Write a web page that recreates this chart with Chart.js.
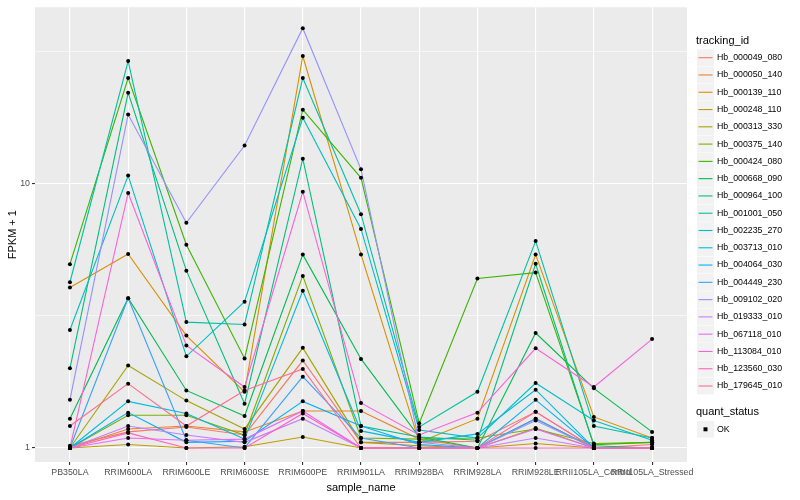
<!DOCTYPE html>
<html>
<head>
<meta charset="utf-8">
<script src="https://cdn.jsdelivr.net/npm/chart.js@4.4.0/dist/chart.umd.min.js"></script>
<style>
  html, body { margin: 0; padding: 0; background: #fff; }
</style>
</head>
<body>
<canvas id="myChart" width="800" height="500"></canvas>
<script>
// sample names along x
const samples = ['PB350LA', 'RRIM600LA', 'RRIM600LE', 'RRIM600SE', 'RRIM600PE', 'RRIM901LA',
  'RRIM928BA', 'RRIM928LA', 'RRIM928LE', 'RRII105LA_Control', 'RRII105LA_Stressed'];

const trackingIds = ['Hb_000049_080', 'Hb_000050_140', 'Hb_000139_110', 'Hb_000248_110', 'Hb_000313_330',
  'Hb_000375_140', 'Hb_000424_080', 'Hb_000668_090', 'Hb_000964_100', 'Hb_001001_050',
  'Hb_002235_270', 'Hb_003713_010', 'Hb_004064_030', 'Hb_004449_230', 'Hb_009102_020',
  'Hb_019333_010', 'Hb_067118_010', 'Hb_113084_010', 'Hb_123560_030', 'Hb_179645_010'];

const colours = ['#F8766D', '#EA8331', '#D89000', '#C09B00', '#A3A500', '#7CAE00', '#39B600', '#00BB4E',
  '#00BF7D', '#00C1A3', '#00BFC4', '#00BAE0', '#00B0F6', '#35A2FF', '#9590FF', '#C77CFF',
  '#E76BF3', '#FA62DB', '#FF62BC', '#FF6C91'];

// FPKM + 1 per gene, one value per sample
const hb_000049_080 = [1.02, 1.15, 1.20, 1.12, 2.14, 1.05, 1.05, 1.06, 1.37, 1.00, 1.03];
const hb_000050_140 = [1.00, 1.18, 1.21, 1.15, 1.38, 1.38, 1.08, 1.00, 1.29, 1.00, 1.00];
const hb_000139_110 = [4.04, 5.41, 2.66, 1.63, 30.3, 5.39, 1.05, 1.29, 5.38, 1.31, 1.09];
const hb_000248_110 = [1.00, 1.03, 1.00, 1.01, 1.10, 1.00, 1.00, 1.00, 1.04, 1.00, 1.00];
const hb_000313_330 = [1.00, 2.05, 1.51, 1.18, 2.39, 1.05, 1.02, 1.00, 1.19, 1.00, 1.00];
const hb_000375_140 = [1.00, 1.33, 1.33, 1.12, 4.47, 1.09, 1.08, 1.09, 1.18, 1.04, 1.05];
const hb_000424_080 = [4.95, 25.0, 5.86, 2.18, 19.0, 10.5, 1.24, 4.37, 4.60, 1.03, 1.05];
const hb_000668_090 = [1.29, 3.68, 1.65, 1.32, 5.38, 2.17, 1.10, 1.00, 2.72, 1.68, 1.15];
const hb_000964_100 = [2.00, 22.0, 4.68, 1.47, 12.4, 1.21, 1.10, 1.07, 4.97, 1.02, 1.00];
const hb_001001_050 = [4.23, 29.0, 2.99, 2.93, 25.0, 7.65, 1.20, 1.63, 6.05, 1.21, 1.09];
const hb_002235_270 = [2.79, 10.7, 2.22, 3.57, 17.7, 6.73, 1.17, 1.09, 1.76, 1.27, 1.07];
const hb_003713_010 = [1.00, 1.50, 1.35, 1.08, 3.93, 1.16, 1.05, 1.13, 1.66, 1.00, 1.00];
const hb_004064_030 = [1.00, 1.36, 1.05, 1.06, 1.50, 1.21, 1.03, 1.00, 1.52, 1.00, 1.00];
const hb_004449_230 = [1.00, 3.68, 1.07, 1.00, 1.86, 1.09, 1.00, 1.00, 1.29, 1.00, 1.00];
const hb_009102_020 = [1.52, 18.2, 7.10, 13.9, 38.6, 11.3, 1.05, 1.00, 1.27, 1.00, 1.00];
const hb_019333_010 = [1.00, 1.21, 1.12, 1.05, 1.29, 1.00, 1.00, 1.00, 1.09, 1.00, 1.00];
const hb_067118_010 = [1.00, 1.09, 1.07, 1.08, 1.38, 1.00, 1.00, 1.00, 1.18, 1.00, 1.00];
const hb_113084_010 = [1.00, 9.20, 2.44, 1.70, 9.30, 1.48, 1.12, 1.36, 2.38, 1.70, 2.58];
const hb_123560_030 = [1.00, 1.14, 1.00, 1.00, 1.35, 1.00, 1.00, 1.00, 1.00, 1.00, 1.00];
const hb_179645_010 = [1.21, 1.75, 1.21, 1.65, 1.99, 1.00, 1.00, 1.00, 1.37, 1.00, 1.00];

const series = [hb_000049_080, hb_000050_140, hb_000139_110, hb_000248_110, hb_000313_330,
  hb_000375_140, hb_000424_080, hb_000668_090, hb_000964_100, hb_001001_050,
  hb_002235_270, hb_003713_010, hb_004064_030, hb_004449_230, hb_009102_020,
  hb_019333_010, hb_067118_010, hb_113084_010, hb_123560_030, hb_179645_010];

const yMajor = [1, 10];
const yMinor = [Math.sqrt(10), Math.sqrt(1000)];

Chart.defaults.font.family = '"Liberation Sans", Arial, sans-serif';

let datasets = [];
series.forEach((vals, i) => {
  datasets.push({
    label: trackingIds[i],
    data: vals.map((v, j) => ({ x: j, y: v })),
    borderColor: colours[i],
    borderWidth: 1.1,
    pointRadius: 0,
    fill: false,
    tension: 0,
    order: series.length - i
  });
});

// all points in black, on top of the lines
let allPoints = [];
series.forEach(vals => vals.forEach((v, j) => allPoints.push({ x: j, y: v })));
datasets.push({
  label: 'OK',
  data: allPoints,
  showLine: false,
  pointStyle: 'circle',
  pointRadius: 2,
  pointBackgroundColor: '#000',
  pointBorderWidth: 0,
  order: 0
});

const panelBg = {
  id: 'panelBg',
  beforeDraw(chart) {
    const a = chart.chartArea;
    chart.ctx.save();
    chart.ctx.fillStyle = '#EBEBEB';
    chart.ctx.fillRect(a.left, a.top, a.right - a.left, a.bottom - a.top);
    chart.ctx.restore();
  }
};

const ggLegend = {
  id: 'ggLegend',
  afterDraw(chart) {
    const c = chart.ctx;
    const x0 = 697;
    c.save();
    c.textBaseline = 'middle';
    c.fillStyle = '#000';
    c.font = '11px "Liberation Sans", Arial, sans-serif';
    c.fillText('tracking_id', 696, 40.5);
    trackingIds.forEach((id, i) => {
      const cy = 57.7 + i * 17.28;
      c.fillStyle = '#F2F2F2';
      c.fillRect(x0, cy - 8.4, 17, 16.8);
      c.strokeStyle = colours[i];
      c.lineWidth = 1.1;
      c.beginPath();
      c.moveTo(x0 + 1.5, cy);
      c.lineTo(x0 + 15.5, cy);
      c.stroke();
      c.fillStyle = '#000';
      c.font = '8.8px "Liberation Sans", Arial, sans-serif';
      c.fillText(id, 717, cy);
    });
    c.font = '11px "Liberation Sans", Arial, sans-serif';
    c.fillText('quant_status', 696, 411.7);
    c.fillStyle = '#F2F2F2';
    c.fillRect(x0, 429.3 - 8.4, 17, 16.8);
    c.fillStyle = '#000';
    c.fillRect(x0 + 6.5, 429.3 - 2, 4, 4);
    c.font = '8.8px "Liberation Sans", Arial, sans-serif';
    c.fillText('OK', 717, 429.3);
    c.restore();
  }
};

const isMajor = v => yMajor.some(m => Math.abs(m - v) < 1e-6);

const myChart = new Chart(document.getElementById('myChart'), {
  type: 'line',
  data: { datasets: datasets },
  options: {
    responsive: false,
    animation: false,
    events: [],
    layout: { padding: { left: 0, right: 113, top: 5, bottom: 0 } },
    plugins: { legend: { display: false }, tooltip: { enabled: false } },
    scales: {
      x: {
        type: 'linear',
        min: -0.6,
        max: 10.6,
        afterBuildTicks: axis => { axis.ticks = samples.map((s, i) => ({ value: i })); },
        afterFit: axis => { axis.height = 38; },
        ticks: {
          autoSkip: false,
          maxRotation: 0,
          minRotation: 0,
          padding: 2,
          color: '#4D4D4D',
          font: { size: 8.8 },
          callback: v => samples[v]
        },
        grid: { color: '#FFFFFF', lineWidth: 1.1, tickColor: '#333333', tickLength: 3, drawTicks: true },
        border: { display: false },
        title: { display: true, text: 'sample_name', color: '#000', font: { size: 11 }, padding: { top: 0, bottom: 5 } }
      },
      y: {
        type: 'logarithmic',
        min: 0.885,
        max: 46.3,
        afterBuildTicks: axis => {
          axis.ticks = yMajor.concat(yMinor).sort((a, b) => a - b).map(v => ({ value: v }));
        },
        afterFit: axis => { axis.width = 35; },
        ticks: {
          padding: 2,
          color: '#4D4D4D',
          font: { size: 8.8 },
          callback: v => isMajor(v) ? String(v) : ''
        },
        grid: {
          color: '#FFFFFF',
          lineWidth: c => isMajor(c.tick.value) ? 1.1 : 0.55,
          tickColor: c => isMajor(c.tick.value) ? '#333333' : 'rgba(0,0,0,0)',
          tickLength: 3
        },
        border: { display: false },
        title: { display: true, text: 'FPKM + 1', color: '#000', font: { size: 11 }, padding: { top: 6, bottom: 0 } }
      }
    }
  },
  plugins: [panelBg, ggLegend]
});
</script>
</body>
</html>
